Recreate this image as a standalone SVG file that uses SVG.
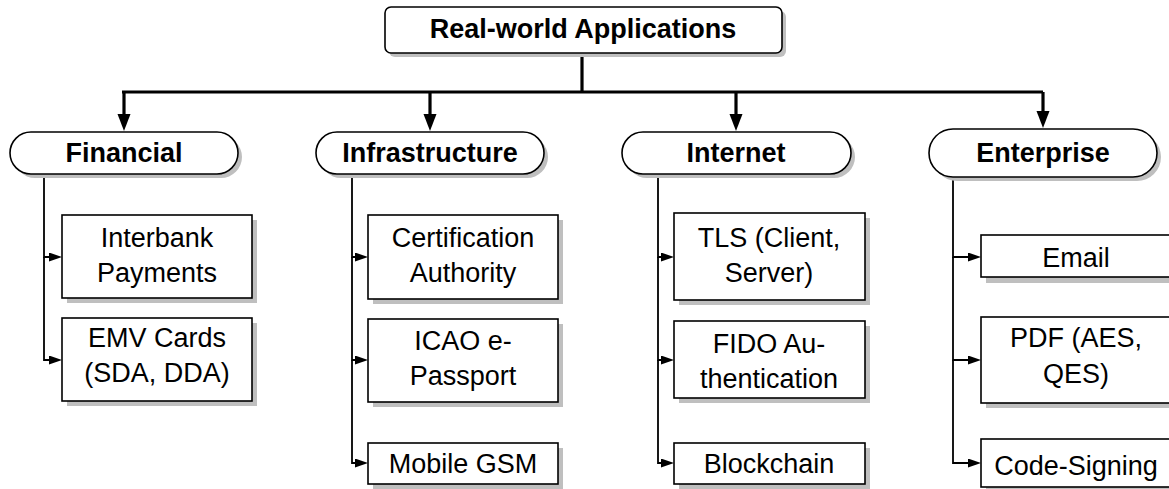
<svg xmlns="http://www.w3.org/2000/svg" width="1169" height="489" viewBox="0 0 1169 489">
<style>
  .bg{fill:#ffffff}
  .sh{fill:#bfbfbf;stroke:none}
  .box{fill:#ffffff;stroke:#000;stroke-width:1.6}
  .main{fill:none;stroke:#000;stroke-width:3.2}
  .br{fill:none;stroke:#000;stroke-width:1.8}
  .t{font-family:"Liberation Sans",Arial,sans-serif;font-size:27px;fill:#000;text-anchor:middle}
  .b{font-weight:bold;font-size:27px}
</style>
<defs>
  <marker id="ah" markerUnits="userSpaceOnUse" markerWidth="18" markerHeight="14" refX="4" refY="6.5" orient="auto">
    <path d="M0,0 L17,6.5 L0,13 z" fill="#000"/>
  </marker>
  <marker id="as" markerUnits="userSpaceOnUse" markerWidth="14" markerHeight="10" refX="3" refY="4.5" orient="auto">
    <path d="M0,0 L13,4.5 L0,9 z" fill="#000"/>
  </marker>
</defs>
<rect class="bg" x="0" y="0" width="1169" height="489"/>

<g id="connectors">
  <path class="main" d="M582 53 V92"/>
  <path class="main" d="M122 92 H1043"/>
  <path class="main" d="M124 92 V118" marker-end="url(#ah)"/>
  <path class="main" d="M430 92 V118" marker-end="url(#ah)"/>
  <path class="main" d="M736 92 V118" marker-end="url(#ah)"/>
  <path class="main" d="M1043 92 V115" marker-end="url(#ah)"/>
  <path class="br" d="M44 174 V257 H52" marker-end="url(#as)"/>
  <path class="br" d="M44 257 V360 H52" marker-end="url(#as)"/>
  <path class="br" d="M352 174 V257 H358" marker-end="url(#as)"/>
  <path class="br" d="M352 257 V360 H358" marker-end="url(#as)"/>
  <path class="br" d="M352 360 V463 H358" marker-end="url(#as)"/>
  <path class="br" d="M658 174 V257 H664" marker-end="url(#as)"/>
  <path class="br" d="M658 257 V360 H664" marker-end="url(#as)"/>
  <path class="br" d="M658 360 V463 H664" marker-end="url(#as)"/>
  <path class="br" d="M953 177 V257 H971" marker-end="url(#as)"/>
  <path class="br" d="M953 257 V360 H971" marker-end="url(#as)"/>
  <path class="br" d="M953 360 V463 H971" marker-end="url(#as)"/>
</g>

<g id="root">
  <rect class="sh" x="389" y="11" width="397" height="46" rx="6"/>
  <rect class="box" x="385" y="7" width="397" height="46" rx="6"/>
  <text class="t b" x="583" y="38" font-size="28">Real-world Applications</text>
</g>

<g id="financial">
  <rect class="sh" x="14" y="136" width="228" height="42" rx="21"/>
  <rect class="box" x="10" y="132" width="228" height="42" rx="21"/>
  <text class="t b" x="124" y="162">Financial</text>
</g>
<g id="infrastructure">
  <rect class="sh" x="320" y="136" width="228" height="42" rx="21"/>
  <rect class="box" x="316" y="132" width="228" height="42" rx="21"/>
  <text class="t b" x="430" y="162">Infrastructure</text>
</g>
<g id="internet">
  <rect class="sh" x="626" y="136" width="229" height="42" rx="21"/>
  <rect class="box" x="622" y="132" width="229" height="42" rx="21"/>
  <text class="t b" x="736" y="162">Internet</text>
</g>
<g id="enterprise">
  <rect class="sh" x="933" y="133" width="228" height="48" rx="24"/>
  <rect class="box" x="929" y="129" width="228" height="48" rx="24"/>
  <text class="t b" x="1043" y="162">Enterprise</text>
</g>

<g id="interbank">
  <rect class="sh" x="67" y="220" width="190" height="83"/>
  <rect class="box" x="62" y="215" width="190" height="83"/>
  <text class="t" x="157" y="247">Interbank</text>
  <text class="t" x="157" y="282">Payments</text>
</g>
<g id="emv">
  <rect class="sh" x="67" y="323" width="190" height="83"/>
  <rect class="box" x="62" y="318" width="190" height="83"/>
  <text class="t" x="157" y="347">EMV Cards</text>
  <text class="t" x="157" y="382">(SDA, DDA)</text>
</g>

<g id="certification">
  <rect class="sh" x="373" y="220" width="190" height="84"/>
  <rect class="box" x="368" y="215" width="190" height="84"/>
  <text class="t" x="463" y="247">Certification</text>
  <text class="t" x="463" y="282">Authority</text>
</g>
<g id="icao">
  <rect class="sh" x="373" y="324" width="190" height="83"/>
  <rect class="box" x="368" y="319" width="190" height="83"/>
  <text class="t" x="463" y="350">ICAO e-</text>
  <text class="t" x="463" y="385">Passport</text>
</g>
<g id="gsm">
  <rect class="sh" x="373" y="448" width="190" height="41"/>
  <rect class="box" x="368" y="443" width="190" height="41"/>
  <text class="t" x="463" y="473">Mobile GSM</text>
</g>

<g id="tls">
  <rect class="sh" x="679" y="218" width="191" height="87"/>
  <rect class="box" x="674" y="213" width="191" height="87"/>
  <text class="t" x="769" y="247">TLS (Client,</text>
  <text class="t" x="769" y="282">Server)</text>
</g>
<g id="fido">
  <rect class="sh" x="679" y="326" width="191" height="77"/>
  <rect class="box" x="674" y="321" width="191" height="77"/>
  <text class="t" x="769" y="353">FIDO Au-</text>
  <text class="t" x="769" y="388">thentication</text>
</g>
<g id="blockchain">
  <rect class="sh" x="679" y="448" width="191" height="41"/>
  <rect class="box" x="674" y="443" width="191" height="41"/>
  <text class="t" x="769" y="473">Blockchain</text>
</g>

<g id="email">
  <rect class="sh" x="986" y="241" width="190" height="42"/>
  <rect class="box" x="981" y="235" width="190" height="42"/>
  <text class="t" x="1076" y="267">Email</text>
</g>
<g id="pdf">
  <rect class="sh" x="986" y="322" width="190" height="86"/>
  <rect class="box" x="981" y="317" width="190" height="86"/>
  <text class="t" x="1076" y="347">PDF (AES,</text>
  <text class="t" x="1076" y="383">QES)</text>
</g>
<g id="codesigning">
  <rect class="sh" x="986" y="444" width="190" height="48"/>
  <rect class="box" x="981" y="439" width="190" height="48"/>
  <text class="t" x="1076" y="475">Code-Signing</text>
</g>
</svg>
